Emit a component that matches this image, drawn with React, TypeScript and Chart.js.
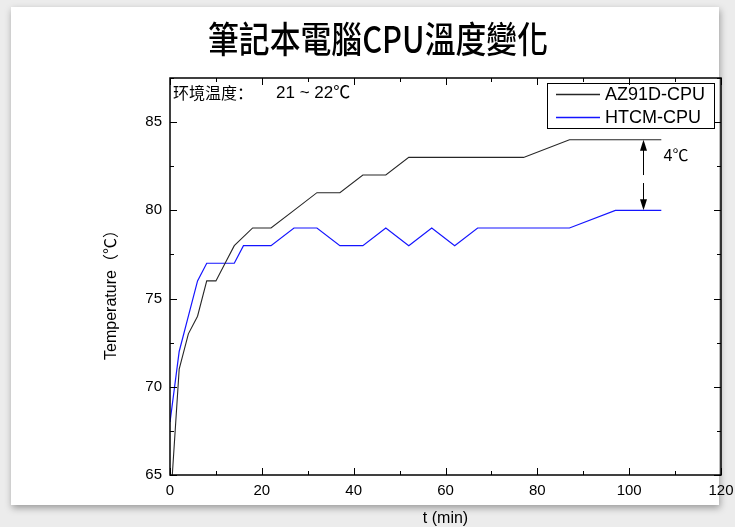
import React, { useEffect, useRef } from 'react';
import { Chart, registerables } from 'chart.js';

Chart.register(...registerables);

// ---- data ----
const seriesNames = ['AZ91D-CPU', 'HTCM-CPU'];
const seriesColors = ['#262626', '#1414ff'];
const azTimes = [0.5, 2, 4, 6, 8, 10, 12, 14, 18, 22, 27, 32, 37, 42, 47, 52, 57, 62, 67, 72, 77, 87, 97, 107];
const azTemps = [65, 71, 73, 74, 76, 76, 77, 78, 79, 79, 80, 81, 81, 82, 82, 83, 83, 83, 83, 83, 83, 84, 84, 84];
const htTimes = [0, 2, 4, 6, 8, 14, 16, 22, 27, 32, 37, 42, 47, 52, 57, 62, 67, 72, 77, 82, 87, 97, 107];
const htTemps = [68, 72, 74, 76, 77, 77, 78, 78, 79, 79, 78, 78, 79, 78, 79, 78, 79, 79, 79, 79, 79, 80, 80];

const xMin = 0;
const xMax = 120;
const xStep = 20;
const yMin = 65;
const yMax = 87.5;
const yStep = 5;

const titleText = '筆記本電腦CPU溫度變化';
const xTitle = 't (min)';
const yTitle = 'Temperature（℃）';
const envLabel = '环境温度：';
const envValue = '21 ~ 22℃';
const diffLabel = '4℃';
const diffTime = 103;
const diffHigh = 84;
const diffLow = 80;

const LATIN = '"Liberation Sans", Arial, "Noto Sans CJK SC", sans-serif';

function line(ctx: CanvasRenderingContext2D, x1: number, y1: number, x2: number, y2: number) {
  ctx.beginPath();
  ctx.moveTo(x1, y1);
  ctx.lineTo(x2, y2);
  ctx.stroke();
}

const decorPlugin = {
  id: 'decor',
  afterDraw(chart: any) {
    const { ctx, chartArea: a, scales } = chart;
    const x = scales.x;
    const y = scales.y;
    ctx.save();
    // frame
    ctx.strokeStyle = '#000';
    ctx.lineWidth = 1.5;
    ctx.strokeRect(a.left, a.top, a.right - a.left, a.bottom - a.top);
    // inward ticks on all sides
    ctx.lineWidth = 1;
    for (let v = xMin; v <= xMax; v += xStep / 2) {
      const px = Math.round(x.getPixelForValue(v)) + 0.5;
      const len = v % xStep === 0 ? 7 : 4;
      line(ctx, px, a.bottom, px, a.bottom - len);
      line(ctx, px, a.top, px, a.top + len);
    }
    for (let v = yMin; v <= yMax; v += yStep / 2) {
      const py = Math.round(y.getPixelForValue(v)) + 0.5;
      const len = v % yStep === 0 ? 7 : 4;
      line(ctx, a.left, py, a.left + len, py);
      line(ctx, a.right, py, a.right - len, py);
    }

    // title (fit to reference width)
    ctx.fillStyle = '#000';
    ctx.textBaseline = 'middle';
    ctx.save();
    ctx.font = '500 36px "Noto Sans CJK TC", sans-serif';
    const tw = ctx.measureText(titleText).width;
    const sx = 340 / tw;
    ctx.translate(378, 39);
    ctx.scale(sx, 1);
    ctx.textAlign = 'center';
    ctx.fillText(titleText, 0, 0);
    ctx.restore();

    // axis titles
    ctx.textAlign = 'center';
    ctx.font = '16px ' + LATIN;
    ctx.fillText(xTitle, (a.left + a.right) / 2, 519);
    ctx.save();
    ctx.translate(112, 291);
    ctx.rotate(-Math.PI / 2);
    ctx.fillText(yTitle, 0, 0);
    ctx.restore();

    // environment annotation
    ctx.textAlign = 'left';
    ctx.font = '16px "Noto Sans CJK SC", sans-serif';
    ctx.fillText(envLabel, a.left + 3, a.top + 15);
    ctx.font = '17px ' + LATIN;
    ctx.fillText(envValue, a.left + 106, a.top + 15);

    // legend box
    const lx = a.right - 174;
    const ly = a.top + 5;
    ctx.lineWidth = 1;
    ctx.strokeStyle = '#000';
    ctx.strokeRect(lx + 0.5, ly + 0.5, 167, 45);
    ctx.font = '18px ' + LATIN;
    seriesNames.forEach((name, i) => {
      const cy = Math.round(ly + 11 + i * 23) + 0.5;
      ctx.save();
      ctx.strokeStyle = seriesColors[i];
      ctx.lineWidth = 1.3;
      line(ctx, lx + 9, cy, lx + 53, cy);
      ctx.restore();
      ctx.fillStyle = '#000';
      ctx.fillText(name, lx + 58, cy + 1);
    });

    // difference arrow
    const ax = Math.round(x.getPixelForValue(diffTime)) + 0.5;
    const yTop = y.getPixelForValue(diffHigh);
    const yBot = y.getPixelForValue(diffLow);
    const mid = (yTop + yBot) / 2;
    ctx.strokeStyle = '#000';
    ctx.fillStyle = '#000';
    ctx.lineWidth = 1;
    line(ctx, ax, yTop + 8, ax, mid);
    line(ctx, ax, mid + 8, ax, yBot - 8);
    ctx.beginPath();
    ctx.moveTo(ax, yTop);
    ctx.lineTo(ax - 3.5, yTop + 11);
    ctx.lineTo(ax + 3.5, yTop + 11);
    ctx.closePath();
    ctx.fill();
    ctx.beginPath();
    ctx.moveTo(ax, yBot);
    ctx.lineTo(ax - 3.5, yBot - 11);
    ctx.lineTo(ax + 3.5, yBot - 11);
    ctx.closePath();
    ctx.fill();
    ctx.font = '16px ' + LATIN;
    ctx.textAlign = 'left';
    ctx.fillText(diffLabel, ax + 20, y.getPixelForValue(83) - 1);

    ctx.restore();
  },
};

export default function App() {
  const ref = useRef<HTMLCanvasElement | null>(null);

  useEffect(() => {
    if (!ref.current) return;
    const chart = new Chart(ref.current, {
      type: 'line',
      data: {
        datasets: [
          {
            label: seriesNames[0],
            data: azTimes.map((t, i) => ({ x: t, y: azTemps[i] })),
            borderColor: seriesColors[0],
            borderWidth: 1.1,
            pointRadius: 0,
            tension: 0,
            fill: false,
          },
          {
            label: seriesNames[1],
            data: htTimes.map((t, i) => ({ x: t, y: htTemps[i] })),
            borderColor: seriesColors[1],
            borderWidth: 1.2,
            pointRadius: 0,
            tension: 0,
            fill: false,
          },
        ],
      },
      options: {
        responsive: false,
        animation: false,
        devicePixelRatio: 1,
        layout: { padding: { left: 0, right: 14, top: 78, bottom: 0 } },
        plugins: {
          legend: { display: false },
          title: { display: false },
          tooltip: { enabled: false },
        },
        scales: {
          x: {
            type: 'linear',
            min: xMin,
            max: xMax,
            position: 'bottom',
            grid: { display: false, drawTicks: false },
            border: { display: false },
            ticks: {
              stepSize: xStep,
              autoSkip: false,
              maxRotation: 0,
              padding: 7,
              color: '#000',
              font: { family: LATIN, size: 15 },
            },
            afterFit: (s: any) => {
              s.height = 52;
              s.paddingLeft = 0;
              s.paddingRight = 0;
            },
          },
          y: {
            type: 'linear',
            min: yMin,
            max: yMax,
            grid: { display: false, drawTicks: false },
            border: { display: false },
            ticks: {
              stepSize: yStep,
              includeBounds: false,
              padding: 8,
              color: '#000',
              font: { family: LATIN, size: 15 },
              callback: (v: any) => (Number(v) % yStep === 0 ? String(v) : ''),
            },
            afterFit: (s: any) => {
              s.width = 170;
              s.paddingTop = 0;
              s.paddingBottom = 0;
            },
          },
        },
      },
      plugins: [decorPlugin],
    });
    return () => chart.destroy();
  }, []);

  return (
    <div
      style={{
        position: 'fixed',
        left: 0,
        top: 0,
        width: 735,
        height: 527,
        background: '#ececec',
        overflow: 'hidden',
      }}
    >
      <div
        style={{
          position: 'absolute',
          left: 11,
          top: 7,
          width: 708,
          height: 498,
          background: '#ffffff',
          boxShadow: '1px 3px 7px rgba(0,0,0,0.35)',
        }}
      />
      <canvas
        ref={ref}
        width={735}
        height={527}
        style={{ position: 'absolute', left: 0, top: 0, width: 735, height: 527 }}
      />
    </div>
  );
}
